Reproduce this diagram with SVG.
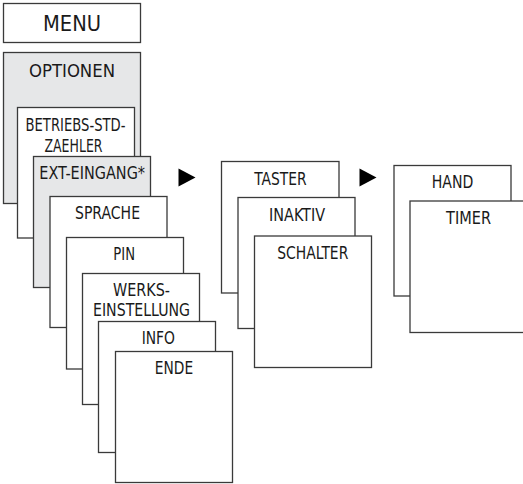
<svg xmlns="http://www.w3.org/2000/svg" width="523" height="484" viewBox="0 0 523 484">
<style>
.b{fill:#ffffff;stroke:#3a3a3a;stroke-width:1.3}
.g{fill:#e6e7e8;stroke:#3a3a3a;stroke-width:1.3}
text{font-family:"DejaVu Sans Condensed","DejaVu Sans",sans-serif;font-size:17px;fill:#1a1a1a;text-anchor:middle}
.arr{fill:#000000}
</style>
<rect width="523" height="484" fill="#ffffff"/>
<g id="menu"><rect class="b" x="3.5" y="3.5" width="137" height="39"/><text x="72" y="31" style="font-size:22px" textLength="58" lengthAdjust="spacingAndGlyphs">MENU</text></g>
<g id="optionen"><rect class="g" x="3.5" y="52.5" width="137" height="151"/><text x="72" y="76.5" style="font-size:18px" textLength="86" lengthAdjust="spacingAndGlyphs">OPTIONEN</text></g>
<g id="betriebs"><rect class="b" x="17.5" y="107.5" width="117" height="130.5"/><text x="75.5" y="131" textLength="100" lengthAdjust="spacingAndGlyphs">BETRIEBS-STD-</text><text x="73.5" y="151.5" textLength="58" lengthAdjust="spacingAndGlyphs">ZAEHLER</text></g>
<g id="ext"><rect class="g" x="33.5" y="156.5" width="117" height="131"/><text x="92.2" y="178.5" textLength="105.7" lengthAdjust="spacingAndGlyphs">EXT-EINGANG*</text></g>
<g id="sprache"><rect class="b" x="50" y="196.5" width="117" height="131"/><text x="107.5" y="219" textLength="65" lengthAdjust="spacingAndGlyphs">SPRACHE</text></g>
<g id="pin"><rect class="b" x="66.5" y="237.5" width="117" height="131.5"/><text x="124.2" y="260" textLength="21.7" lengthAdjust="spacingAndGlyphs">PIN</text></g>
<g id="werks"><rect class="b" x="82.5" y="273.5" width="117" height="131"/><text x="141.5" y="296" textLength="57" lengthAdjust="spacingAndGlyphs">WERKS-</text><text x="141.5" y="316" textLength="97" lengthAdjust="spacingAndGlyphs">EINSTELLUNG</text></g>
<g id="info"><rect class="b" x="98.5" y="321.5" width="117" height="131"/><text x="158.3" y="344" textLength="33.3" lengthAdjust="spacingAndGlyphs">INFO</text></g>
<g id="ende"><rect class="b" x="115.5" y="351.5" width="117" height="131"/><text x="174" y="373.5" textLength="38.3" lengthAdjust="spacingAndGlyphs">ENDE</text></g>
<g id="taster"><rect class="b" x="221.5" y="161.5" width="117.5" height="131.5"/><text x="280.5" y="184.5" textLength="52.4" lengthAdjust="spacingAndGlyphs">TASTER</text></g>
<g id="inaktiv"><rect class="b" x="238" y="197.5" width="117" height="131"/><text x="297" y="221" textLength="56" lengthAdjust="spacingAndGlyphs">INAKTIV</text></g>
<g id="schalter"><rect class="b" x="254.5" y="236" width="117" height="131.5"/><text x="312.8" y="259" textLength="71" lengthAdjust="spacingAndGlyphs">SCHALTER</text></g>
<g id="hand"><rect class="b" x="394" y="165.5" width="117" height="130.5"/><text x="452.5" y="187.5" textLength="41.6" lengthAdjust="spacingAndGlyphs">HAND</text></g>
<g id="timer"><rect class="b" x="410" y="201" width="117" height="131.5"/><text x="468.5" y="223.5" textLength="45" lengthAdjust="spacingAndGlyphs">TIMER</text></g>
<g id="connectors">
<polygon class="arr" points="178.5,168.5 178.5,186.5 195.5,177.5"/>
<polygon class="arr" points="359.5,168.5 359.5,186.5 376.5,177.5"/>
</g>
</svg>
